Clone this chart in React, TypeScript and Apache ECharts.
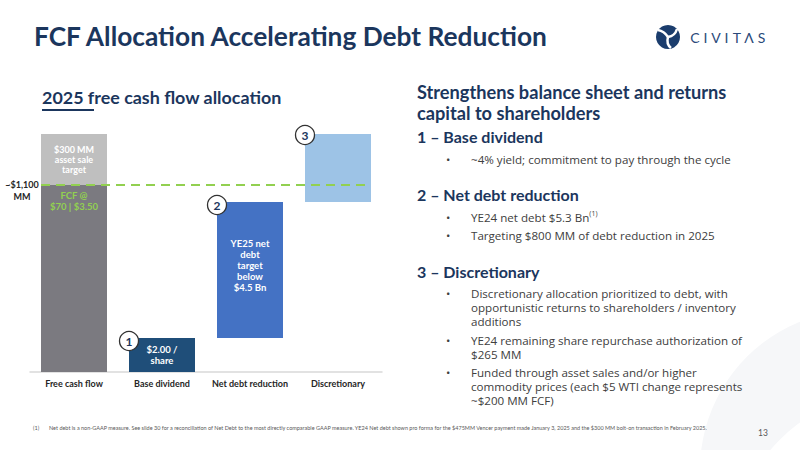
import React, { useEffect, useRef } from "react";
import * as echarts from "echarts";

const categories = ["Free cash flow", "Base dividend", "Net debt reduction", "Discretionary"];
const fcfBase = [1100, "-", "-", "-"];
const assetSale = [300, "-", "-", "-"];
const allocation = ["-", 200, 800, 400];
const fcfLevel = 1100;
const stepNumbers = ["1", "2", "3"];
const barLabels = ["", "$2.00 /\nshare", "YE25 net\ndebt\ntarget\nbelow\n$4.5 Bn", ""];
const allocColors = ["#1f4e79", "#1f4e79", "#4472c4", "#9dc3e6"];

const NAVY = "#1b365d";
const FONT = "Lato";
const BODY_FONT = "Open Sans";

export default function App() {
  const ref = useRef<HTMLDivElement>(null);
  useEffect(() => {
    document.body.style.margin = "0";
    const chart = echarts.init(ref.current!, null, { renderer: "svg" });
    const offsets: any[] = [];
    let run = 0;
    allocation.forEach((v) => {
      if (v === "-") offsets.push("-");
      else { offsets.push(run); run += v as number; }
    });
    const allocData = allocation.map((v, i) =>
      v === "-" ? "-" : {
        value: v,
        itemStyle: { color: allocColors[i] },
        label: {
          show: !!barLabels[i],
          formatter: barLabels[i],
          offset: i === 2 ? [0, -5] : [0, 0],
        },
      }
    );
    const markData: any[] = [];
    let k = 0;
    allocation.forEach((v, i) => {
      if (v === "-") return;
      const top = (offsets[i] as number) + (v as number);
      markData.push({ coord: [i, top], value: stepNumbers[k], symbolOffset: [-33, i === 3 ? 1 : 3] });
      k++;
    });

    const option: any = {
      animation: false,
      textStyle: { fontFamily: FONT },
      grid: { left: 30, right: 418, top: 134, bottom: 78 },
      xAxis: {
        type: "category",
        data: categories,
        axisLine: { lineStyle: { color: "#d9d9d9", width: 1.5 } },
        axisTick: { show: false },
        axisLabel: { interval: 0, color: "#262626", fontWeight: "bold", fontSize: 9, margin: 7, fontFamily: FONT },
      },
      yAxis: { type: "value", min: 0, max: 1400, show: false, splitLine: { show: false } },
      series: [
        {
          name: "FCF", type: "bar", stack: "w", barWidth: 66, data: fcfBase,
          itemStyle: { color: "#7b7a80" },
          label: {
            show: true, position: "insideTop", distance: 5,
            formatter: "FCF @\n$70 | $3.50", color: "#92d050",
            fontWeight: "bold", fontSize: 9.5, lineHeight: 11, fontFamily: FONT,
          },
        },
        {
          name: "Asset sale", type: "bar", stack: "w", barWidth: 66, data: assetSale,
          itemStyle: { color: "#bfbfbf" },
          label: {
            show: true, position: "inside",
            formatter: "$300 MM\nasset sale\ntarget", color: "#fff",
            fontWeight: "bold", fontSize: 9, lineHeight: 10, fontFamily: FONT,
          },
        },
        {
          name: "offset", type: "bar", stack: "w", barWidth: 66, data: offsets, silent: true,
          itemStyle: { color: "transparent" },
        },
        {
          name: "Allocation", type: "bar", stack: "w", barWidth: 66, data: allocData,
          label: {
            show: false, position: "inside", color: "#fff",
            fontWeight: "bold", fontSize: 9.5, lineHeight: 11, fontFamily: FONT,
          },
          markPoint: {
            symbol: "circle", symbolSize: 19,
            itemStyle: { color: "#fff", borderColor: "#333", borderWidth: 1.3 },
            label: { show: true, formatter: "{c}", color: NAVY, fontWeight: "bold", fontSize: 12, fontFamily: FONT },
            data: markData,
          },
        },
      ],
    };
    chart.setOption(option);

    const y = chart.convertToPixel({ yAxisIndex: 0 }, fcfLevel) as number;
    const xL = (chart.convertToPixel({ xAxisIndex: 0 }, categories[0]) as number) - 33;
    const xR = (chart.convertToPixel({ xAxisIndex: 0 }, categories[3]) as number) + 29;

    const body = { fill: "#404040", fontSize: 11.6, fontFamily: BODY_FONT, lineHeight: 14 };
    const bullet = (yy: number) => ({ type: "text", left: 446, top: yy, style: { text: "•", ...body } });
    const para = (yy: number, text: string) => ({ type: "text", left: 471, top: yy, style: { text, ...body } });
    const head = (yy: number, text: string, size = 18.2) => ({
      type: "text", left: 417, top: yy,
      style: { text, fill: NAVY, fontSize: size, fontWeight: "bold", fontFamily: FONT },
    });

    const letters = ["C", "I", "V", "I", "T", "Λ", "S"];
    const letterX = [695, 705.5, 716, 726.5, 737, 749, 761.5];

    chart.setOption({
      graphic: [
        { type: "circle", shape: { cx: 860, cy: 470, r: 160 }, style: { fill: "#f6f7f9" }, z: -10, silent: true },
        { type: "circle", shape: { cx: 900, cy: 560, r: 170 }, style: { fill: "#ffffff" }, z: -9, silent: true },
        {
          type: "text", left: 34, top: 23,
          style: { text: "FCF Allocation Accelerating Debt Reduction", fill: NAVY, fontSize: 26.3, fontWeight: "bold", fontFamily: FONT },
        },
        { type: "circle", shape: { cx: 668, cy: 37, r: 12 }, style: { fill: "#1b3d6d" } },
        { type: "bezierCurve", shape: { x1: 668, y1: 37, cpx1: 664, cpy1: 31, x2: 658, y2: 30 }, style: { stroke: "#fff", lineWidth: 2.5, fill: "none" } },
        { type: "bezierCurve", shape: { x1: 668, y1: 37, cpx1: 675, cpy1: 36, x2: 677, y2: 29 }, style: { stroke: "#fff", lineWidth: 2.5, fill: "none" } },
        { type: "bezierCurve", shape: { x1: 668, y1: 37, cpx1: 666, cpy1: 44, x2: 671, y2: 48 }, style: { stroke: "#fff", lineWidth: 2.5, fill: "none" } },
        ...letters.map((c, i) => ({
          type: "text", x: letterX[i], y: 37,
          style: { text: c, fill: "#2b4a7a", fontSize: 14, fontFamily: FONT, align: "center", verticalAlign: "middle" },
        })),
        {
          type: "text", left: 42, top: 88,
          style: { text: "2025 free cash flow allocation", fill: NAVY, fontSize: 17.9, fontWeight: "bold", fontFamily: FONT },
        },
        { type: "line", shape: { x1: 42, y1: 110, x2: 94, y2: 110 }, style: { stroke: NAVY, lineWidth: 2 } },
        head(83, "Strengthens balance sheet and returns"),
        head(104, "capital to shareholders"),
        head(128, "1 – Base dividend", 16),
        bullet(152), para(152, "~4% yield; commitment to pay through the cycle"),
        head(186, "2 – Net debt reduction", 16),
        bullet(210),
        {
          type: "text", left: 471, top: 210,
          style: {
            text: "{a|YE24 net debt $5.3 Bn}{s|(1)}",
            rich: {
              a: { ...body },
              s: { fill: "#404040", fontSize: 7, fontFamily: BODY_FONT, verticalAlign: "top", lineHeight: 14, padding: [0, 0, 5, 0] },
            },
          },
        },
        bullet(228), para(228, "Targeting $800 MM of debt reduction in 2025"),
        head(263, "3 – Discretionary", 16),
        bullet(286), para(286, "Discretionary allocation prioritized to debt, with\nopportunistic returns to shareholders / inventory\nadditions"),
        bullet(333), para(333, "YE24 remaining share repurchase authorization of\n$265 MM"),
        bullet(365), para(365, "Funded through asset sales and/or higher\ncommodity prices (each $5 WTI change represents\n~$200 MM FCF)"),
        {
          type: "line", z: 100,
          shape: { x1: xL, y1: y, x2: xR, y2: y },
          style: { stroke: "#92d050", lineWidth: 1.8, lineDash: [9, 6] },
        },
        {
          type: "text", x: 22, y: y - 7, z: 100,
          style: { text: "~$1,100\nMM", fill: "#262626", fontSize: 9, fontWeight: "bold", lineHeight: 12, align: "center", fontFamily: FONT },
        },
        {
          type: "text", left: 33, top: 425,
          style: { text: "(1)", fill: "#595959", fontSize: 5.5, fontFamily: FONT },
        },
        {
          type: "text", left: 49, top: 425,
          style: {
            text: "Net debt is a non-GAAP measure. See slide 30 for a reconciliation of Net Debt to the most directly comparable GAAP measure. YE24 Net debt shown pro forma for the $475MM Vencer payment made January 3, 2025 and the $300 MM bolt-on transaction in February 2025.",
            fill: "#595959", fontSize: 5.5, fontFamily: FONT,
          },
        },
        {
          type: "text", left: 758, top: 428,
          style: { text: "13", fill: "#595959", fontSize: 8.5, fontFamily: FONT },
        },
      ],
    });

    return () => chart.dispose();
  }, []);
  return <div ref={ref} style={{ position: "fixed", left: 0, top: 0, width: 800, height: 450, background: "#fff" }} />;
}
